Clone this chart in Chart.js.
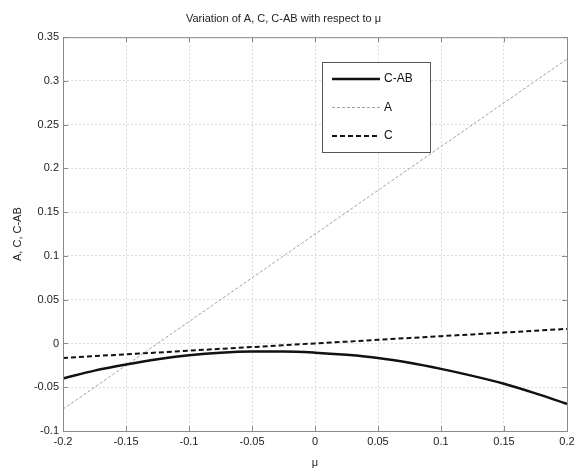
<!DOCTYPE html>
<html>
<head>
  <title>Variation of A, C, C-AB</title>
  <script src="https://cdn.jsdelivr.net/npm/chart.js"></script>
  <style>
    html, body { margin: 0; padding: 0; background: #fff; }
    #wrap { width: 579px; height: 470px; }
  </style>
</head>
<body>
  <div id="wrap"><canvas id="chart" width="579" height="470"></canvas></div>

  <script>
    // values
    const mu = [-0.2, -0.175, -0.15, -0.125, -0.1, -0.075, -0.05, -0.025, 0, 0.025, 0.05, 0.075, 0.1, 0.125, 0.15, 0.175, 0.2];
    const seriesCAB = [-0.040, -0.031, -0.024, -0.018, -0.0135, -0.0105, -0.0092, -0.0092, -0.0105, -0.0130, -0.0165, -0.022, -0.029, -0.037, -0.046, -0.057, -0.069];
    const seriesA = [-0.075, -0.05, -0.025, 0, 0.025, 0.05, 0.075, 0.1, 0.125, 0.15, 0.175, 0.2, 0.225, 0.25, 0.275, 0.3, 0.325];
    const seriesC = [-0.0165, -0.0144, -0.0124, -0.0103, -0.0082, -0.0061, -0.0041, -0.0020, 0.0001, 0.0021, 0.0042, 0.0063, 0.0084, 0.0104, 0.0125, 0.0146, 0.0167];
    const xTicks = [-0.2, -0.15, -0.1, -0.05, 0, 0.05, 0.1, 0.15, 0.2];
    const yTicks = [-0.1, -0.05, 0, 0.05, 0.1, 0.15, 0.2, 0.25, 0.3, 0.35];

    const pts = ys => mu.map((x, i) => ({ x, y: ys[i] }));
    const font = 'Liberation Sans, Arial, sans-serif';

    // axes box, inward ticks and the legend box inside the plot
    const matlabBox = {
      id: 'matlabBox',
      afterDatasetsDraw(chart) {
        const { ctx, chartArea: a, scales } = chart;
        ctx.save();
        ctx.strokeStyle = '#8a8a8a';
        ctx.lineWidth = 1;
        ctx.strokeRect(a.left + 0.5, a.top + 0.5, a.right - a.left, a.bottom - a.top);
        ctx.beginPath();
        xTicks.forEach(v => {
          const px = Math.round(scales.x.getPixelForValue(v)) + 0.5;
          ctx.moveTo(px, a.bottom); ctx.lineTo(px, a.bottom - 5);
          ctx.moveTo(px, a.top); ctx.lineTo(px, a.top + 5);
        });
        yTicks.forEach(v => {
          const py = Math.round(scales.y.getPixelForValue(v)) + 0.5;
          ctx.moveTo(a.left, py); ctx.lineTo(a.left + 5, py);
          ctx.moveTo(a.right, py); ctx.lineTo(a.right - 5, py);
        });
        ctx.stroke();

        // legend
        const bx = 322, by = 62, bw = 108, bh = 90;
        ctx.fillStyle = '#fff';
        ctx.fillRect(bx, by, bw, bh);
        ctx.strokeStyle = '#555';
        ctx.strokeRect(bx + 0.5, by + 0.5, bw, bh);
        ctx.font = '12px ' + font;
        ctx.textBaseline = 'middle';
        chart.data.datasets.forEach((ds, i) => {
          const y = by + 17 + i * 28.5;
          ctx.beginPath();
          ctx.setLineDash(ds.borderDash || []);
          ctx.strokeStyle = ds.borderColor;
          ctx.lineWidth = ds.borderWidth;
          ctx.moveTo(bx + 10, y); ctx.lineTo(bx + 58, y);
          ctx.stroke();
          ctx.setLineDash([]);
          ctx.fillStyle = '#111';
          ctx.fillText(ds.label, bx + 62, y);
        });
        ctx.restore();
      }
    };

    new Chart(document.getElementById('chart'), {
      type: 'line',
      data: {
        datasets: [
          { label: 'C-AB', data: pts(seriesCAB), borderColor: '#111', borderWidth: 2.5, cubicInterpolationMode: 'monotone' },
          { label: 'A', data: pts(seriesA), borderColor: '#a0a0a0', borderWidth: 1, borderDash: [3, 2] },
          { label: 'C', data: pts(seriesC), borderColor: '#111', borderWidth: 2, borderDash: [5, 3] }
        ]
      },
      options: {
        responsive: false,
        animation: false,
        elements: { point: { radius: 0 } },
        layout: { padding: { left: 0, right: 12, top: 0, bottom: 0 } },
        plugins: {
          legend: { display: false },
          tooltip: { enabled: false },
          title: {
            display: true,
            text: 'Variation of A, C, C-AB with respect to \u03bc',
            color: '#222',
            font: { family: font, size: 11, weight: 'normal' },
            padding: { top: 12, bottom: 12 }
          }
        },
        scales: {
          x: {
            type: 'linear',
            min: -0.2, max: 0.2,
            afterBuildTicks: s => { s.ticks = xTicks.map(v => ({ value: v })); },
            afterFit: s => { s.height = 39; },
            grid: { color: '#dcdcdc', drawTicks: false },
            border: { display: false, dash: [2, 2] },
            ticks: { color: '#222', font: { family: font, size: 11 }, padding: 4, maxRotation: 0, callback: v => String(v) },
            title: { display: true, text: '\u03bc', color: '#222', font: { family: font, size: 11 }, padding: { top: 1, bottom: 0 } }
          },
          y: {
            min: -0.1, max: 0.35,
            afterBuildTicks: s => { s.ticks = yTicks.map(v => ({ value: v })); },
            afterFit: s => { s.width = 63; },
            grid: { color: '#dcdcdc', drawTicks: false },
            border: { display: false, dash: [2, 2] },
            ticks: { color: '#222', font: { family: font, size: 11 }, padding: 4, callback: v => String(v) },
            title: { display: true, text: 'A, C, C-AB', color: '#222', font: { family: font, size: 11 }, padding: { top: 11, bottom: 0 } }
          }
        }
      },
      plugins: [matlabBox]
    });
  </script>
</body>
</html>
